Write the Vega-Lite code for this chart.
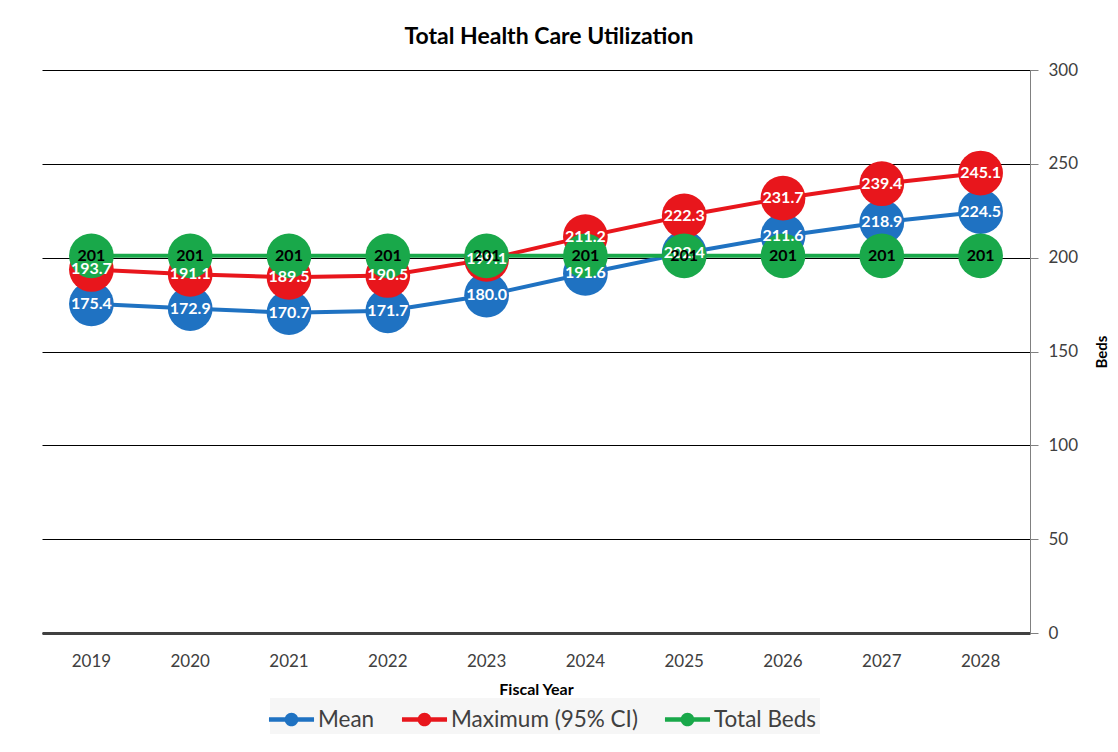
{
  "$schema": "https://vega.github.io/schema/vega-lite/v6.json",
  "autosize": "none",
  "width": 988,
  "height": 563,
  "padding": {"left": 42, "top": 70, "right": 88, "bottom": 119},
  "background": "white",
  "title": {"text": "Total Health Care Utilization", "font": "Lato", "fontSize": 23, "fontWeight": "bold", "color": "#000000", "offset": 12, "dx": 13},
  "config": {
    "view": {"stroke": null},
    "font": "Lato"
  },
  "data": {
    "values": [
      {"year": "2019", "series": "Mean", "value": 175.4},
      {"year": "2020", "series": "Mean", "value": 172.9},
      {"year": "2021", "series": "Mean", "value": 170.7},
      {"year": "2022", "series": "Mean", "value": 171.7},
      {"year": "2023", "series": "Mean", "value": 180.0},
      {"year": "2024", "series": "Mean", "value": 191.6},
      {"year": "2025", "series": "Mean", "value": 202.4},
      {"year": "2026", "series": "Mean", "value": 211.6},
      {"year": "2027", "series": "Mean", "value": 218.9},
      {"year": "2028", "series": "Mean", "value": 224.5},
      {"year": "2019", "series": "Maximum (95% CI)", "value": 193.7},
      {"year": "2020", "series": "Maximum (95% CI)", "value": 191.1},
      {"year": "2021", "series": "Maximum (95% CI)", "value": 189.5},
      {"year": "2022", "series": "Maximum (95% CI)", "value": 190.5},
      {"year": "2023", "series": "Maximum (95% CI)", "value": 199.1},
      {"year": "2024", "series": "Maximum (95% CI)", "value": 211.2},
      {"year": "2025", "series": "Maximum (95% CI)", "value": 222.3},
      {"year": "2026", "series": "Maximum (95% CI)", "value": 231.7},
      {"year": "2027", "series": "Maximum (95% CI)", "value": 239.4},
      {"year": "2028", "series": "Maximum (95% CI)", "value": 245.1},
      {"year": "2019", "series": "Total Beds", "value": 201},
      {"year": "2020", "series": "Total Beds", "value": 201},
      {"year": "2021", "series": "Total Beds", "value": 201},
      {"year": "2022", "series": "Total Beds", "value": 201},
      {"year": "2023", "series": "Total Beds", "value": 201},
      {"year": "2024", "series": "Total Beds", "value": 201},
      {"year": "2025", "series": "Total Beds", "value": 201},
      {"year": "2026", "series": "Total Beds", "value": 201},
      {"year": "2027", "series": "Total Beds", "value": 201},
      {"year": "2028", "series": "Total Beds", "value": 201}
    ]
  },
  "encoding": {
    "x": {
      "field": "year", "type": "ordinal",
      "scale": {"type": "band", "paddingInner": 0, "paddingOuter": 0},
      "axis": {
        "title": "Fiscal Year", "titleFont": "Lato", "titleFontSize": 16, "titleFontWeight": "bold", "titleColor": "#000000", "titlePadding": 12,
        "labelAngle": 0, "labelFont": "Lato", "labelFontSize": 17, "labelColor": "#404040", "labelPadding": 20,
        "ticks": false, "domainColor": "#404040", "domainWidth": 3, "grid": false
      }
    },
    "y": {
      "field": "value", "type": "quantitative",
      "scale": {"domain": [0, 300], "nice": false, "zero": true},
      "axis": {
        "orient": "right", "values": [0, 50, 100, 150, 200, 250, 300],
        "title": "Beds", "titleFont": "Lato", "titleFontSize": 15, "titleFontWeight": "bold", "titleColor": "#000000", "titlePadding": 32, "titleAngle": 270,
        "labelFont": "Lato", "labelFontSize": 17, "labelColor": "#404040", "labelPadding": 10,
        "grid": true, "gridColor": "#000000", "gridWidth": 1, "gridOpacity": 1,
        "tickColor": "#808080", "tickSize": 8, "domainColor": "#808080", "domainWidth": 1
      }
    }
  },
  "layer": [
    {
      "mark": {"type": "line", "strokeWidth": 4},
      "encoding": {
        "color": {
          "field": "series", "type": "nominal",
          "scale": {"domain": ["Mean", "Maximum (95% CI)", "Total Beds"], "range": ["#1F72C2", "#E8161C", "#19A84A"]},
          "legend": {
            "title": null, "orient": "none", "direction": "horizontal", "legendX": 228, "legendY": 628,
            "labelFont": "Lato", "labelFontSize": 22.5, "labelColor": "#404040", "labelLimit": 400,
            "symbolType": "M-1.25,-0.13 L1.25,-0.13 L1.25,0.13 L-1.25,0.13 Z M-0.38,0 A0.38,0.38 0 1,1 0.38,0 A0.38,0.38 0 1,1 -0.38,0 Z",
            "symbolSize": 1300, "symbolStrokeWidth": 0, "symbolOpacity": 1,
            "columnPadding": 26, "labelOffset": 8,
            "fillColor": "#F6F6F6", "padding": 3
          }
        }
      }
    },
    {
      "mark": {"type": "point", "filled": true, "opacity": 1, "size": 2000, "shape": "circle"},
      "encoding": {
        "color": {"field": "series", "type": "nominal", "legend": null}
      }
    },
    {
      "transform": [{"filter": "datum.series !== 'Total Beds'"}],
      "mark": {"type": "text", "font": "Lato", "fontSize": 16, "fontWeight": "bold", "color": "white", "baseline": "middle", "align": "center"},
      "encoding": {"text": {"field": "value", "type": "quantitative", "format": ".1f"}}
    },
    {
      "transform": [{"filter": "datum.series === 'Total Beds'"}],
      "mark": {"type": "text", "font": "Lato", "fontSize": 16, "fontWeight": "bold", "color": "black", "baseline": "middle", "align": "center"},
      "encoding": {"text": {"field": "value", "type": "quantitative", "format": "d"}}
    }
  ]
}
